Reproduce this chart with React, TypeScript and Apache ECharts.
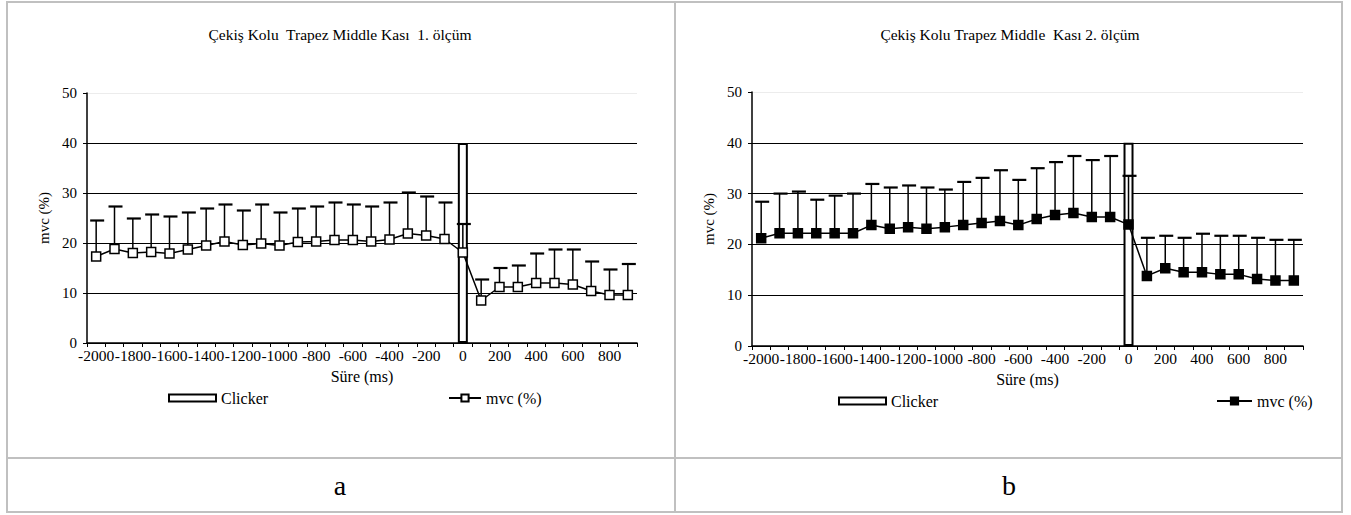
import React, { useEffect, useRef } from 'react';
import * as echarts from 'echarts';

const FONT = 'Liberation Serif';

const categories = ['-2000', '-1900', '-1800', '-1700', '-1600', '-1500', '-1400', '-1300', '-1200', '-1100', '-1000', '-900', '-800', '-700', '-600', '-500', '-400', '-300', '-200', '-100', '0', '100', '200', '300', '400', '500', '600', '700', '800', '900'];

const clickerA = [null, null, null, null, null, null, null, null, null, null, null, null, null, null, null, null, null, null, null, null, 40, null, null, null, null, null, null, null, null, null];
const mvcA = [17.3, 18.8, 18.0, 18.2, 17.9, 18.7, 19.5, 20.3, 19.6, 19.9, 19.5, 20.2, 20.3, 20.6, 20.6, 20.3, 20.7, 21.9, 21.5, 20.8, 18.1, 8.5, 11.2, 11.2, 12.0, 12.0, 11.7, 10.4, 9.6, 9.6];
const errTopA = [24.5, 27.3, 24.9, 25.7, 25.3, 26.1, 26.9, 27.7, 26.5, 27.7, 26.1, 26.9, 27.3, 28.1, 27.7, 27.3, 28.1, 30.1, 29.3, 28.1, 23.8, 12.7, 15.0, 15.5, 17.9, 18.7, 18.7, 16.3, 14.7, 15.8];

const clickerB = [null, null, null, null, null, null, null, null, null, null, null, null, null, null, null, null, null, null, null, null, 40, null, null, null, null, null, null, null, null, null];
const mvcB = [21.2, 22.2, 22.2, 22.2, 22.2, 22.2, 23.8, 23.1, 23.4, 23.1, 23.4, 23.8, 24.2, 24.6, 23.8, 25.0, 25.8, 26.2, 25.4, 25.4, 23.9, 13.8, 15.3, 14.5, 14.5, 14.1, 14.1, 13.2, 12.9, 12.9];
const errTopB = [28.4, 30.0, 30.4, 28.8, 29.6, 30.0, 31.9, 31.2, 31.6, 31.2, 30.8, 32.3, 33.1, 34.6, 32.7, 35.0, 36.2, 37.4, 36.6, 37.4, 33.5, 21.3, 21.7, 21.3, 22.1, 21.7, 21.7, 21.3, 20.9, 20.9];

const yTicks = { min: 0, max: 50, interval: 10 };

const titleA = 'Çekiş Kolu  Trapez Middle Kası  1. ölçüm';
const titleB = 'Çekiş Kolu Trapez Middle  Kası 2. ölçüm';
const xName = 'Süre (ms)';
const yName = 'mvc (%)';
const clickerName = 'Clicker';
const mvcName = 'mvc (%)';

type Panel = {
  title: string;
  titleX: number;
  grid: { left: number; top: number; width: number; height: number };
  yNameGap: number;
  clicker: (number | null)[];
  mvc: number[];
  errTop: number[];
  markerFill: string;
  legendTop: number;
  legendClickerLeft: number;
  legendMvcLeft: number;
  legendMvcWidth: number;
  letter: string;
  letterX: number;
  borders: any[];
};

const GRAY = '#c0c0c0';

function buildOption(p: Panel) {
  const errData = p.mvc.map((m, i) => [i, m, p.errTop[i]]);
  return {
    animation: false,
    textStyle: { fontFamily: FONT, color: '#000' },
    title: {
      text: p.title,
      left: p.titleX,
      top: 26,
      textAlign: 'center',
      padding: 0,
      textStyle: { fontFamily: FONT, fontSize: 15.5, fontWeight: 'normal', color: '#000' },
    },
    grid: { ...p.grid },
    legend: [
      {
        data: [{ name: clickerName, icon: 'rect' }],
        left: p.legendClickerLeft,
        top: p.legendTop,
        padding: 0,
        itemWidth: 47,
        itemHeight: 7,
        selectedMode: false,
        textStyle: { fontFamily: FONT, fontSize: 16, color: '#000' },
      },
      {
        data: [{ name: mvcName }],
        left: p.legendMvcLeft,
        top: p.legendTop,
        padding: 0,
        itemWidth: p.legendMvcWidth,
        itemHeight: 9,
        selectedMode: false,
        textStyle: { fontFamily: FONT, fontSize: 16, color: '#000' },
      },
    ],
    xAxis: {
      type: 'category',
      data: categories,
      boundaryGap: true,
      name: xName,
      nameLocation: 'middle',
      nameGap: 25,
      nameTextStyle: { fontFamily: FONT, fontSize: 16, color: '#000' },
      axisLine: { show: true, onZero: false, lineStyle: { color: '#000', width: 1.5 } },
      axisTick: { show: true, interval: 0, length: 4, lineStyle: { color: '#000', width: 1 } },
      axisLabel: {
        interval: 1,
        showMinLabel: true,
        hideOverlap: false,
        margin: 4,
        fontFamily: FONT,
        fontSize: 15.5,
        color: '#000',
      },
      splitLine: { show: false },
    },
    yAxis: {
      type: 'value',
      ...yTicks,
      name: yName,
      nameLocation: 'middle',
      nameGap: p.yNameGap,
      nameTextStyle: { fontFamily: FONT, fontSize: 15, color: '#000' },
      axisLine: { show: true, lineStyle: { color: '#000', width: 1.5 } },
      axisTick: { show: true, length: 4, lineStyle: { color: '#000', width: 1 } },
      axisLabel: { margin: 10, fontFamily: FONT, fontSize: 15, color: '#000' },
      splitLine: {
        show: true,
        lineStyle: { color: ['#000', '#000', '#000', '#000', '#000', '#ececec'], width: 1 },
      },
    },
    series: [
      {
        name: clickerName,
        type: 'bar',
        data: p.clicker,
        barWidth: 10,
        itemStyle: { color: '#fff', borderColor: '#000', borderWidth: 2 },
        z: 1,
      },
      {
        name: 'errors',
        type: 'custom',
        data: errData,
        encode: { x: 0, y: [1, 2] },
        z: 2,
        renderItem: (params: any, api: any) => {
          const i = api.value(0);
          const lo = api.coord([i, api.value(1)]);
          const hi = api.coord([i, api.value(2)]);
          return {
            type: 'group',
            children: [
              {
                type: 'line',
                shape: { x1: lo[0], y1: lo[1], x2: hi[0], y2: hi[1] },
                style: { stroke: '#000', lineWidth: 1.5 },
              },
              {
                type: 'line',
                shape: { x1: hi[0] - 6, y1: hi[1], x2: hi[0] + 8, y2: hi[1] },
                style: { stroke: '#000', lineWidth: 2.2 },
              },
            ],
          };
        },
      },
      {
        name: mvcName,
        type: 'line',
        data: p.mvc,
        symbol: 'rect',
        symbolSize: 9,
        showSymbol: true,
        showAllSymbol: true,
        lineStyle: { color: '#000', width: 1.5 },
        itemStyle: { color: p.markerFill, borderColor: '#000', borderWidth: 1.5 },
        z: 3,
      },
    ],
    graphic: [
      ...p.borders,
      {
        type: 'text',
        x: p.letterX,
        y: 485,
        style: {
          text: p.letter,
          fontFamily: FONT,
          fontSize: 28,
          fill: '#000',
          align: 'center',
          verticalAlign: 'middle',
        },
      },
    ],
  };
}

const lineEl = (x1: number, y1: number, x2: number, y2: number) => ({
  type: 'line',
  shape: { x1, y1, x2, y2 },
  style: { stroke: GRAY, lineWidth: 2 },
  silent: true,
});

const panelA: Panel = {
  title: titleA,
  titleX: 340,
  grid: { left: 87, top: 93, width: 550, height: 250 },
  yNameGap: 34,
  clicker: clickerA,
  mvc: mvcA,
  errTop: errTopA,
  markerFill: '#fff',
  legendTop: 390,
  legendClickerLeft: 168,
  legendMvcLeft: 448,
  legendMvcWidth: 32,
  letter: 'a',
  letterX: 340,
  borders: [
    lineEl(7, 2, 676, 2),
    lineEl(7, 1, 7, 513),
    lineEl(7, 512, 676, 512),
    lineEl(7, 458, 676, 458),
    lineEl(675, 1, 675, 513),
  ],
};

const panelB: Panel = {
  title: titleB,
  titleX: 334,
  grid: { left: 76, top: 92, width: 551, height: 254 },
  yNameGap: 30,
  clicker: clickerB,
  mvc: mvcB,
  errTop: errTopB,
  markerFill: '#000',
  legendTop: 393,
  legendClickerLeft: 162,
  legendMvcLeft: 540,
  legendMvcWidth: 35,
  letter: 'b',
  letterX: 333,
  borders: [
    lineEl(0, 2, 667, 2),
    lineEl(0, 512, 667, 512),
    lineEl(0, 458, 667, 458),
    lineEl(666, 1, 666, 513),
  ],
};

function ChartPanel({ panel, left, width }: { panel: Panel; left: number; width: number }) {
  const ref = useRef<HTMLDivElement>(null);
  useEffect(() => {
    if (!ref.current) return;
    const chart = echarts.init(ref.current, undefined, { renderer: 'svg' });
    chart.setOption(buildOption(panel) as any);
    return () => chart.dispose();
  }, [panel]);
  return <div ref={ref} style={{ position: 'absolute', left, top: 0, width, height: 515 }} />;
}

export default function App() {
  return (
    <div style={{ position: 'absolute', left: 0, top: 0, width: 1351, height: 515, background: '#fff' }}>
      <ChartPanel panel={panelA} left={0} width={676} />
      <ChartPanel panel={panelB} left={676} width={675} />
    </div>
  );
}
